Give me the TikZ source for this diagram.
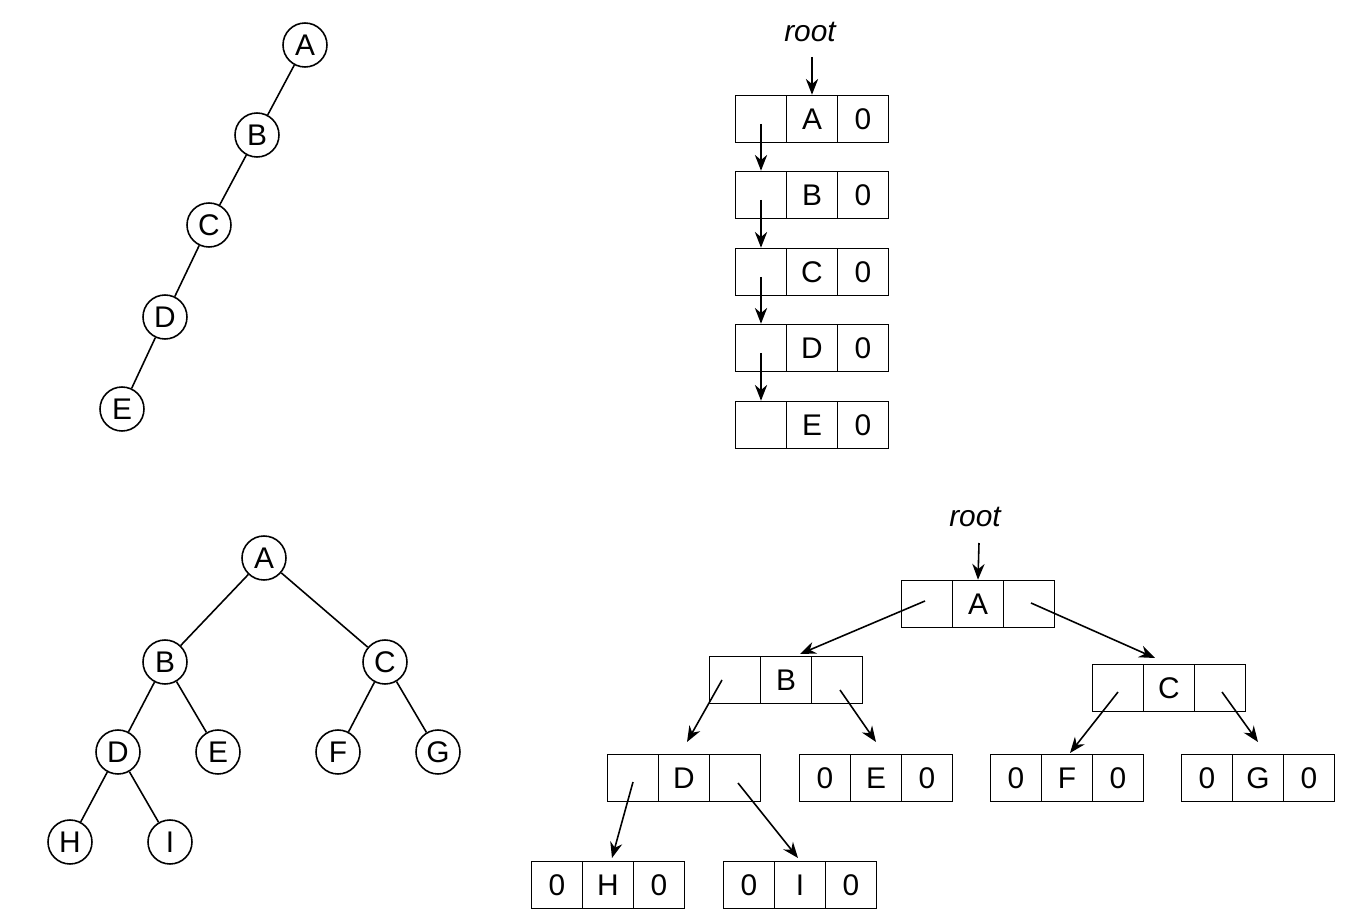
\documentclass[tikz,border=0pt]{standalone}
\usepackage{fontspec}
\setmainfont{Liberation Sans}
\usetikzlibrary{arrows.meta}
\newcommand\mklist[6]{%
 \node[cell] (#1a) at (#2-51,#3) {#4};
 \node[cell] (#1b) at (#2,#3) {#5};
 \node[cell] (#1c) at (#2+51,#3) {#6};}
\begin{document}
\begin{tikzpicture}[x=0.02cm,y=-0.02cm,
 every node/.style={font=\fontsize{17}{20}\selectfont},
 circ/.style={draw,circle,minimum size=0.88cm,inner sep=0pt,line width=0.9pt},
 cell/.style={draw,rectangle,minimum width=1.02cm,minimum height=0.94cm,inner sep=0pt,line width=0.9pt},
 edge/.style={line width=0.9pt},
 arr/.style={line width=0.9pt,-{Stealth[length=9pt,width=7pt]}},
 lbl/.style={font=\fontsize{17}{20}\selectfont\itshape}]
\useasboundingbox (0,0) rectangle (1360,922);
% top-left tree
\node[circ] (a1) at (305,45) {A};
\node[circ] (b1) at (257,135) {B};
\node[circ] (c1) at (209,225) {C};
\node[circ] (d1) at (165,317) {D};
\node[circ] (e1) at (122,409) {E};
\draw[edge] (a1)--(b1) (b1)--(c1) (c1)--(d1) (d1)--(e1);
% top-right list
\node[lbl] (r1) at (810,32) {root};
\mklist{p}{812}{119}{}{A}{0}
\mklist{q}{812}{195}{}{B}{0}
\mklist{r}{812}{272}{}{C}{0}
\mklist{s}{812}{348}{}{D}{0}
\mklist{t}{812}{425}{}{E}{0}
\coordinate (r1s) at (812,57);
\draw[arr] (r1s)--(pb.north);
\draw[arr] ([yshift=-0.1cm]pa.center)--(qa.north);
\draw[arr] ([yshift=-0.1cm]qa.center)--(ra.north);
\draw[arr] ([yshift=-0.1cm]ra.center)--(sa.north);
\draw[arr] ([yshift=-0.1cm]sa.center)--(ta.north);
% bottom-left tree
\node[circ] (A) at (264,558) {A};
\node[circ] (B) at (165,662) {B};
\node[circ] (C) at (385,662) {C};
\node[circ] (D) at (118,752) {D};
\node[circ] (E) at (218,752) {E};
\node[circ] (F) at (338,752) {F};
\node[circ] (G) at (438,752) {G};
\node[circ] (H) at (70,842) {H};
\node[circ] (I) at (170,842) {I};
\draw[edge] (A)--(B) (A)--(C) (B)--(D) (B)--(E) (C)--(F) (C)--(G) (D)--(H) (D)--(I);
% bottom-right linked tree
\node[lbl] (r2) at (975,517) {root};
\mklist{LA}{978}{604}{}{A}{}
\mklist{LB}{786}{680}{}{B}{}
\mklist{LC}{1169}{688}{}{C}{}
\mklist{LD}{684}{778}{}{D}{}
\mklist{LE}{876}{778}{0}{E}{0}
\mklist{LF}{1067}{778}{0}{F}{0}
\mklist{LG}{1258}{778}{0}{G}{0}
\mklist{LH}{608}{885}{0}{H}{0}
\mklist{LI}{800}{885}{0}{I}{0}
\coordinate (r2s) at (979,543);
\draw[arr] (r2s)--(LAb.north);
\coordinate (la1) at (925,601); \coordinate (la2) at (1031,603);
\coordinate (lb1) at (722,680); \coordinate (lb2) at (840,690);
\coordinate (lc1) at (1118,692); \coordinate (lc2) at (1222,692);
\coordinate (ld1) at (633,782); \coordinate (ld2) at (738,783);
\coordinate (tB) at (800,654); \coordinate (tC) at (1155,658);
\coordinate (tD) at (687,742); \coordinate (tE) at (876,742);
\coordinate (tF) at (1070,753); \coordinate (tG) at (1258,742);
\coordinate (tH) at (612,858); \coordinate (tI) at (798,858);
\draw[arr] (la1)--(tB);
\draw[arr] (la2)--(tC);
\draw[arr] (lb1)--(tD);
\draw[arr] (lb2)--(tE);
\draw[arr] (lc1)--(tF);
\draw[arr] (lc2)--(tG);
\draw[arr] (ld1)--(tH);
\draw[arr] (ld2)--(tI);
\end{tikzpicture}
\end{document}
